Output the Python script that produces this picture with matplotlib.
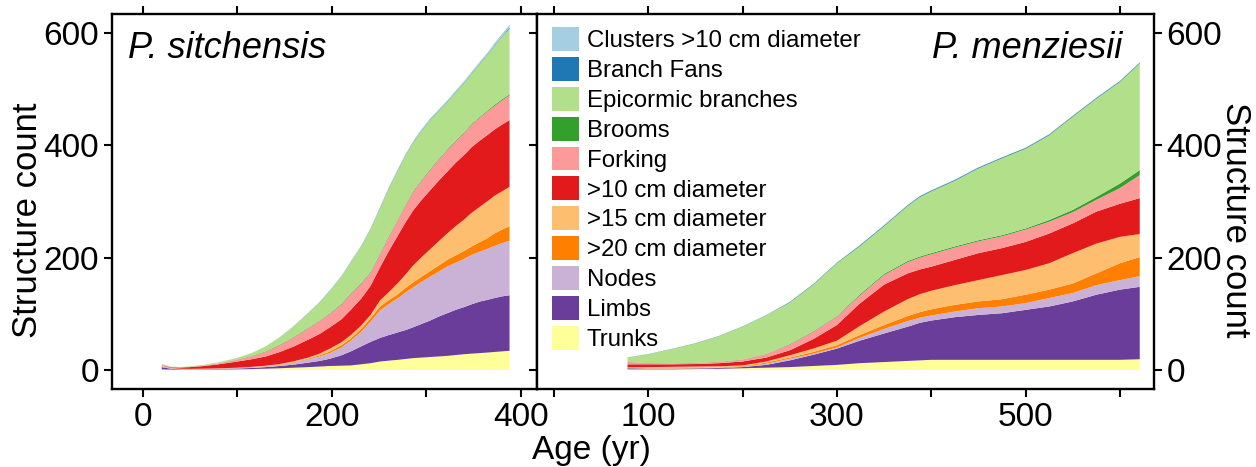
import numpy as np
import matplotlib.pyplot as plt
from matplotlib.ticker import MultipleLocator

plt.rcParams['font.family'] = ['Liberation Sans', 'DejaVu Sans']

# structure classes, bottom of the stack first
LABELS = ['Trunks', 'Limbs', 'Nodes', '>20 cm diameter', '>15 cm diameter',
          '>10 cm diameter', 'Forking', 'Brooms', 'Epicormic branches',
          'Branch Fans', 'Clusters >10 cm diameter']
COLORS = ['#ffff99', '#6a3d9a', '#cab2d6', '#ff7f00', '#fdbf6f',
          '#e31a1c', '#fb9a99', '#33a02c', '#b2df8a', '#1f78b4', '#a6cee3']

# ---- Picea sitchensis ----
sit_age = [20, 30, 40, 50, 65, 80, 100, 115, 130, 145, 160, 175,
           187, 198, 210, 220, 231, 241, 251, 260, 270, 278, 286, 295,
           304, 313, 322, 331, 340, 348, 357, 365, 372, 380, 388]
sit_trunks = [1, 0.6, 0.5, 0.5, 0.6, 0.8, 1, 1.5, 2.2, 3, 4, 5,
              6, 7, 7.5, 8, 10, 12, 15, 16.5, 18, 19.5, 21, 22,
              23, 24, 25, 26.5, 28, 29, 30, 31, 32, 33, 34]
sit_limbs = [4, 1.4, 0.7, 0.5, 0.7, 0.8, 1.5, 2, 2.8, 4, 5.5, 8,
             10, 13, 18.5, 25, 32, 38, 42, 45.5, 49, 51.5, 55, 60,
             65, 71, 76, 80.5, 84, 88, 92, 94, 96, 98, 99]
sit_nodes = [2, 1, 0.6, 0.5, 0.6, 0.8, 1, 1.3, 1.5, 2, 3.5, 6,
             8, 10, 14, 19, 26, 36, 49, 55, 61, 67, 71, 75,
             78, 80, 83, 84, 86, 88, 89, 91, 93, 95, 97]
sit_gt20 = [0.3, 0.2, 0.2, 0.2, 0.2, 0.2, 0.3, 0.3, 0.5, 0.5, 1, 1,
            2, 3, 4, 4, 5, 6, 7, 7, 7, 8, 9, 9,
            10, 11, 12, 13, 14, 15, 17, 19, 22, 24, 26]
sit_gt15 = [0.7, 0.3, 0.2, 0.2, 0.2, 0.2, 0.2, 0.4, 0.5, 1, 1.5, 2,
            3, 5, 5, 6, 6, 6, 11, 14, 20, 24, 30, 35,
            39, 43, 47, 52, 56, 60, 63, 66, 67, 68, 70]
sit_gt10 = [0.5, 1, 2, 3.1, 4.7, 7.2, 11, 13.5, 16.5, 21.5, 26.5, 32,
            35, 38, 41, 45, 48, 52, 59, 73, 85, 93, 98, 102,
            105, 108, 110, 113, 115, 117, 118, 118, 118, 119, 119]
sit_fork = [0.5, 0.5, 0.4, 0.5, 1, 1.5, 3, 5, 8, 12, 16, 20,
            23, 24, 26, 28, 26, 23, 23, 25, 27, 30, 33, 34,
            36, 37, 38, 38, 39, 40, 41, 42, 42, 43, 44]
sit_brooms = [0.1, 0.1, 0.1, 0.1, 0.1, 0.2, 0.5, 0.7, 1, 1, 1, 1,
              1, 1, 1.5, 1.5, 1.5, 1.5, 1.5, 1.5, 1.5, 1.5, 1.5, 1.5,
              1.5, 1.5, 1.5, 1.5, 1.5, 1.5, 1.5, 1.5, 2, 2, 2]
sit_epic = [0.9, 0.7, 0.6, 0.9, 1.1, 1.8, 3, 5.3, 9, 13, 19, 26,
            32, 40, 48.5, 55.5, 65.5, 76.5, 80.5, 84.5, 87.5, 87.5, 86.5, 87.5,
            87.5, 85.5, 84.5, 85.5, 87.5, 89.5, 94.5, 99.5, 105, 111, 117]
sit_fans = [0.1, 0, 0, 0, 0, 0, 0, 0, 0, 0.2, 0.3, 0.4,
            0.5, 0.5, 0.5, 0.5, 0.5, 0.7, 1, 1, 1, 1, 1, 1,
            1, 1, 1, 1, 1, 1, 1, 1, 1, 1, 2]
sit_clusters = [0.1, 0, 0, 0, 0, 0, 0, 0, 0, 0.3, 0.4, 0.5,
                0.5, 0.5, 0.5, 1, 1, 1, 1, 1.5, 1.5, 1.5, 1.5, 2,
                2, 2, 2, 2.5, 2.5, 2.5, 3, 3, 4, 4.5, 5]

# ---- Pseudotsuga menziesii ----
men_age = [78, 100, 125, 150, 175, 200, 225, 250, 275, 300, 324, 350,
           375, 388, 400, 425, 450, 475, 500, 525, 550, 575, 600, 621]
men_trunks = [1, 1, 1, 1.5, 2, 3, 4, 5, 7, 9, 12, 14,
              16, 17, 18, 18, 18, 18, 18, 18, 18, 18, 18, 19]
men_limbs = [2, 1, 1, 1, 1.5, 2, 5, 12, 20, 29, 40, 51,
             61, 67, 70, 76, 80, 83, 89, 95, 104, 116, 125, 129]
men_nodes = [0.5, 0.5, 0.5, 0.5, 0.5, 1, 2, 3, 2, 2, 5, 8,
             10, 9, 9, 10, 12, 12, 12, 15, 15, 17, 17, 19]
men_gt20 = [0.5, 0.5, 0.5, 0.5, 0.5, 1, 2, 2, 3, 4, 5, 7,
            9, 10, 11, 12, 12, 13, 15, 15, 17, 21, 30, 34]
men_gt15 = [0.5, 2, 2.5, 2.5, 2, 1, 2, 4, 6, 8, 16, 24,
            30, 32, 33, 35, 38, 43, 44, 47, 54, 53, 47, 41]
men_gt10 = [5.5, 5, 4.5, 4.5, 5.5, 7, 7, 9, 17, 28, 40, 48,
            46, 44, 43, 45, 48, 48, 50, 53, 53, 57, 59, 64]
men_fork = [4, 2, 1.5, 1.5, 2, 3, 6, 10, 13, 15, 14, 17,
            20, 21, 22, 22, 21, 21, 22, 21, 20, 21, 28, 41]
men_brooms = [0.3, 0.3, 0.3, 0.5, 0.5, 0.5, 0.5, 1, 1, 1, 2, 2,
              2, 2, 2, 2, 2, 2, 2, 3, 4, 5, 8, 9]
men_epic = [7.7, 15.7, 25.2, 34.5, 45.5, 58.5, 68.5, 74, 83, 94, 86, 85,
            98, 106, 110, 117, 128, 137, 142, 151, 166, 175, 181, 190]
men_fans = [0.3, 0.3, 0.4, 0.5, 0.5, 0.5, 0.5, 1, 1, 1, 1.5, 1.5,
            1.5, 1.5, 1.5, 1.5, 1.5, 1.5, 1.5, 1.5, 1.5, 1.5, 1.5, 1.5]
men_clusters = [0, 0, 0, 0, 0, 0, 0, 0, 0, 0, 0.5, 0.5,
                0.5, 0.5, 0.5, 0.5, 0.5, 0.5, 0.5, 0.5, 0.5, 0.5, 0.5, 0.5]

sit_layers = [sit_trunks, sit_limbs, sit_nodes, sit_gt20, sit_gt15, sit_gt10,
              sit_fork, sit_brooms, sit_epic, sit_fans, sit_clusters]
men_layers = [men_trunks, men_limbs, men_nodes, men_gt20, men_gt15, men_gt10,
              men_fork, men_brooms, men_epic, men_fans, men_clusters]

TICK_FS = 24
LABEL_FS = 25

fig = plt.figure(figsize=(12.56, 4.67), dpi=100)
ax1 = fig.add_axes([0.0889, 0.167, 0.3386, 0.803])
ax2 = fig.add_axes([0.4275, 0.167, 0.4912, 0.803])

ax1.stackplot(sit_age, *sit_layers, colors=COLORS, linewidth=0)
ax2.stackplot(men_age, *men_layers, colors=COLORS, labels=LABELS,
              linewidth=0)

ax1.set_xlim(-33, 417)
ax2.set_xlim(-18, 636)
for ax in (ax1, ax2):
    ax.set_ylim(-34, 634)
    ax.yaxis.set_major_locator(MultipleLocator(200))
    for sp in ax.spines.values():
        sp.set_linewidth(1.7)
    ax.tick_params(which='both', direction='out', length=6, width=1.5,
                   top=True, right=True, labelsize=TICK_FS, pad=3)

ax1.xaxis.set_major_locator(MultipleLocator(200))
ax1.xaxis.set_minor_locator(MultipleLocator(100))
ax1.tick_params(labelright=False)

ax2.set_xticks([100, 300, 500])
ax2.set_xticks([0, 200, 400, 600], minor=True)
ax2.tick_params(labelleft=False, labelright=True)

# axis titles
fig.text(28 / 1256, 0.529, 'Structure count', fontsize=LABEL_FS,
         rotation=90, ha='center', va='center')
fig.text(1236 / 1256, 0.529, 'Structure count', fontsize=LABEL_FS,
         rotation=270, ha='center', va='center')
fig.text(0.471, 0.035, 'Age (yr)', fontsize=TICK_FS, ha='center',
         va='center')

ax1.text(0.038, 0.955, 'P. sitchensis', transform=ax1.transAxes,
         fontsize=26, style='italic', ha='left', va='top')
ax2.text(0.948, 0.955, 'P. menziesii', transform=ax2.transAxes,
         fontsize=26, style='italic', ha='right', va='top')

handles, labels = ax2.get_legend_handles_labels()
ax2.legend(handles[::-1], labels[::-1], loc='upper left',
           bbox_to_anchor=(0.024, 0.965), frameon=False, fontsize=17.3,
           handlelength=1.15, handleheight=1.15, labelspacing=0.2,
           handletextpad=0.3, borderpad=0, borderaxespad=0)

fig.savefig('out.png', dpi=100)
